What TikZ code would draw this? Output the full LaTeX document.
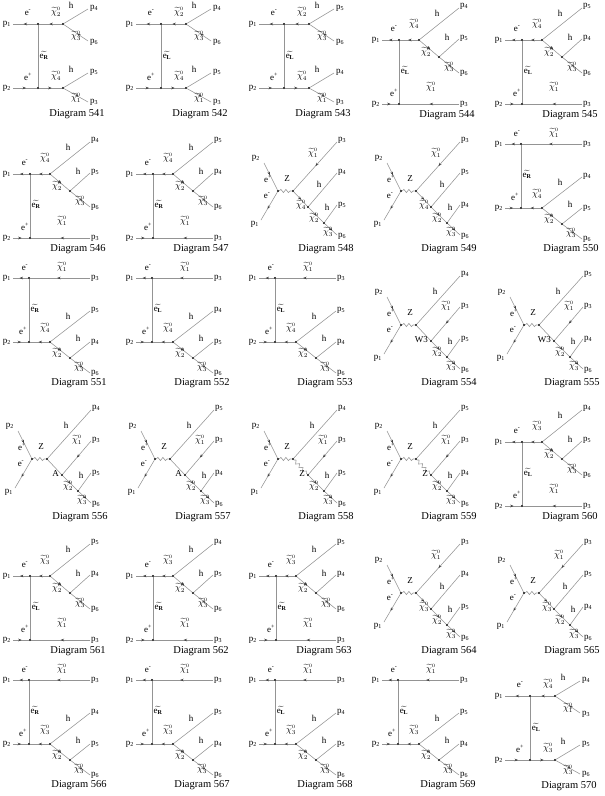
\documentclass[tikz,border=0pt]{standalone}
\usepackage{fontspec}
\setmainfont{Liberation Serif}
\usetikzlibrary{arrows.meta,decorations.markings,decorations.pathmorphing}
\definecolor{lgray}{gray}{0.58}
\definecolor{agray}{gray}{0.25}
\newcommand\lbfont{\fontsize{9}{9}\selectfont}
\newcommand\capfont{\fontsize{10.5}{11}\selectfont}
\newcommand\xP[1]{p\textsubscript{#1}}
\newcommand\xC[1]{$\widetilde{\chi}^{\scriptscriptstyle 0}_{#1}$}
\newcommand\xS[1]{$\widetilde{\mathrm{e}_{\mathbf{#1}}}$}
\newcommand\xEm{e\textsuperscript{-}}
\newcommand\xEp{e\textsuperscript{+}}
\tikzset{
  ln/.style={draw=lgray, line width=0.55pt},
  marr/.style={postaction={decorate}, decoration={markings, mark=at position #1 with {\arrow[agray]{Stealth[length=3.4pt,width=2.6pt]}}}},
  marr/.default=0.55,
  vdot/.style={circle, fill=black, inner sep=0pt, minimum size=2.3pt},
  lb/.style={font=\lbfont, inner sep=0pt},
  captn/.style={font=\capfont, inner sep=0pt},
  wavy/.style={decorate, decoration={snake, amplitude=1.6pt, segment length=5pt}},
}
% ---------- t-channel, two 2-body decays
\newcommand\Ttwo[9]{%
 \coordinate (\dn a) at (13,24);
 \coordinate (\dn b) at (13,88);
 \node[vdot] (\dn v1) at (38,24) {};
 \node[vdot] (\dn v2) at (63,24) {};
 \node[vdot] (\dn v3) at (38,88) {};
 \node[vdot] (\dn v4) at (63,88) {};
 \coordinate (\dn e1) at (88,9);
 \coordinate (\dn e2) at (88,41);
 \coordinate (\dn e3) at (88,73);
 \coordinate (\dn e4) at (88,102);
 \draw[ln,marr] (\dn v1) -- (\dn a);
 \draw[ln,marr] (\dn v2) -- (\dn v1);
 \draw[ln] (\dn v2) -- (\dn e1);
 \draw[ln,marr=0.45] (\dn e2) -- (\dn v2);
 \draw[ln] (\dn v1) -- (\dn v3);
 \draw[ln,marr] (\dn b) -- (\dn v3);
 \draw[ln,marr] (\dn v3) -- (\dn v4);
 \draw[ln] (\dn v4) -- (\dn e3);
 \draw[ln,marr=0.6] (\dn v4) -- (\dn e4);
 \node[lb,anchor=east] (\dn q1) at (11,24) {\xP1};
 \node[lb,anchor=east] (\dn q2) at (11,88) {\xP2};
 \node[lb] (\dn l1) at (28,13) {\xEm};
 \node[lb] (\dn l2) at (28,77) {\xEp};
 \node[lb] (\dn l3) at (56,12) {\xC{#1}};
 \node[lb] (\dn l4) at (71,5) {h};
 \node[lb,anchor=west] (\dn l5) at (90,8) {\xP{#2}};
 \node[lb] (\dn l6) at (76,36) {\xC{#3}};
 \node[lb,anchor=west] (\dn l7) at (90,42) {\xP{#4}};
 \node[lb] (\dn l8) at (44,55) {\xS{#5}};
 \node[lb] (\dn l9) at (56,76) {\xC{#6}};
 \node[lb] (\dn l10) at (71,69) {h};
 \node[lb,anchor=west] (\dn l11) at (90,72) {\xP{#7}};
 \node[lb] (\dn l12) at (76,98) {\xC{#8}};
 \node[lb,anchor=west] (\dn l13) at (90,102) {\xP{#9}};
 \node[captn] (\dn cap) at (77,114) {Diagram \dn};
}
% ---------- t-channel, chain on the upper line
\newcommand\Tup[4]{%
 \coordinate (\dn a) at (13,40);
 \coordinate (\dn b) at (13,104);
 \coordinate (\dn c) at (90,104);
 \node[vdot] (\dn v1) at (30,40) {};
 \node[vdot] (\dn v2) at (50,40) {};
 \node[vdot] (\dn v3) at (70,57) {};
 \node[vdot] (\dn v4) at (30,104) {};
 \coordinate (\dn e1) at (90,8);
 \coordinate (\dn e2) at (90,39);
 \coordinate (\dn e3) at (90,73);
 \draw[ln,marr] (\dn v1) -- (\dn a);
 \draw[ln,marr] (\dn v2) -- (\dn v1);
 \draw[ln] (\dn v2) -- (\dn e1);
 \draw[ln,marr] (\dn v2) -- (\dn v3);
 \draw[ln] (\dn v3) -- (\dn e2);
 \draw[ln,marr=0.6] (\dn v3) -- (\dn e3);
 \draw[ln] (\dn v1) -- (\dn v4);
 \draw[ln,marr] (\dn b) -- (\dn v4);
 \draw[ln,marr=0.5] (\dn c) -- (\dn v4);
 \node[lb,anchor=east] (\dn q1) at (11,40) {\xP1};
 \node[lb,anchor=east] (\dn q2) at (11,104) {\xP2};
 \node[lb] (\dn l1) at (25,29) {\xEm};
 \node[lb] (\dn l2) at (45,24) {\xC{#2}};
 \node[lb] (\dn l3) at (68,13) {h};
 \node[lb,anchor=west] (\dn l4) at (91,6) {\xP{#3}};
 \node[lb] (\dn l5) at (57,52) {\xC2};
 \node[lb] (\dn l6) at (78,37) {h};
 \node[lb,anchor=west] (\dn l7) at (91,38) {\xP{#4}};
 \node[lb] (\dn l8) at (80,67) {\xC3};
 \node[lb,anchor=west] (\dn l9) at (91,73) {\xP6};
 \node[lb] (\dn l10) at (36,70) {\xS{#1}};
 \node[lb] (\dn l11) at (25,93) {\xEp};
 \node[lb] (\dn l12) at (62,87) {\xC1};
 \node[lb,anchor=west] (\dn l13) at (91,104) {\xP3};
 \node[captn] (\dn cap) at (78,115) {Diagram \dn};
}
% ---------- t-channel, chain on the lower line
\newcommand\Tdn[4]{%
 \coordinate (\dn a) at (13,10);
 \coordinate (\dn c) at (90,10);
 \coordinate (\dn b) at (13,74);
 \node[vdot] (\dn v1) at (29,10) {};
 \node[vdot] (\dn v2) at (29,74) {};
 \node[vdot] (\dn v3) at (50,74) {};
 \node[vdot] (\dn v4) at (70,90) {};
 \coordinate (\dn e1) at (90,43);
 \coordinate (\dn e2) at (90,74);
 \coordinate (\dn e3) at (90,105);
 \draw[ln,marr] (\dn v1) -- (\dn a);
 \draw[ln,marr] (\dn c) -- (\dn v1);
 \draw[ln] (\dn v1) -- (\dn v2);
 \draw[ln,marr] (\dn b) -- (\dn v2);
 \draw[ln,marr] (\dn v3) -- (\dn v2);
 \draw[ln] (\dn v3) -- (\dn e1);
 \draw[ln,marr] (\dn v3) -- (\dn v4);
 \draw[ln] (\dn v4) -- (\dn e2);
 \draw[ln,marr=0.6] (\dn v4) -- (\dn e3);
 \node[lb,anchor=east] (\dn q1) at (11,10) {\xP1};
 \node[lb,anchor=east] (\dn q2) at (11,74) {\xP2};
 \node[lb] (\dn l1) at (25,0) {\xEm};
 \node[lb] (\dn l2) at (62,-1) {\xC1};
 \node[lb,anchor=west] (\dn l3) at (91,10) {\xP3};
 \node[lb] (\dn l4) at (35,40) {\xS{#1}};
 \node[lb] (\dn l5) at (23,63) {\xEp};
 \node[lb] (\dn l6) at (45,60) {\xC{#2}};
 \node[lb] (\dn l7) at (68,48) {h};
 \node[lb,anchor=west] (\dn l8) at (91,42) {\xP{#3}};
 \node[lb] (\dn l9) at (57,85) {\xC2};
 \node[lb] (\dn l10) at (78,70) {h};
 \node[lb,anchor=west] (\dn l11) at (91,74) {\xP{#4}};
 \node[lb] (\dn l12) at (79,99) {\xC3};
 \node[lb,anchor=west] (\dn l13) at (91,105) {\xP6};
 \node[captn] (\dn cap) at (79,115) {Diagram \dn};
}
% ---------- s-channel common part
\newcommand\Sbase[1]{%
 \coordinate (\dn a) at (18,29);
 \coordinate (\dn b) at (15,86);
 \node[vdot] (\dn v1) at (32,57) {};
 \node[vdot] (\dn v2) at (47,57) {};
 \node[vdot] (\dn v3) at (62,73) {};
 \node[vdot] (\dn v4) at (78,89) {};
 \coordinate (\dn e1) at (91,8);
 \coordinate (\dn e2) at (91,39);
 \coordinate (\dn e3) at (91,71);
 \coordinate (\dn e4) at (91,101);
 \draw[ln,marr=0.45] (\dn a) -- (\dn v1);
 \draw[ln,marr=0.6] (\dn v1) -- (\dn b);
 \draw[ln,wavy] (\dn v1) -- (\dn v2);
 \draw[ln] (\dn v4) -- (\dn e3);
 \draw[ln,marr=0.6] (\dn v4) -- (\dn e4);
 \node[lb,anchor=east] (\dn q2) at (14,24) {\xP2};
 \node[lb,anchor=east] (\dn q1) at (13,90) {\xP1};
 \node[lb] (\dn l1) at (22,45) {\xEp};
 \node[lb] (\dn l2) at (21,62) {\xEm};
 \node[lb] (\dn l3) at (41,45) {Z};
 \node[lb] (\dn l4) at (68,84) {\xC2};
 \node[lb] (\dn l5) at (81,73) {h};
 \node[lb,anchor=west] (\dn l6) at (92,71) {\xP{#1}};
 \node[lb] (\dn l7) at (82,98) {\xC3};
 \node[lb,anchor=west] (\dn l8) at (92,102) {\xP6};
 \node[captn] (\dn cap) at (80,115) {Diagram \dn};
}
% s-channel, neutralino chain
\newcommand\Sone[3]{%
 \Sbase{#3}
 \draw[ln,marr=0.5] (\dn e1) -- (\dn v2);
 \draw[ln,marr] (\dn v2) -- (\dn v3);
 \draw[ln] (\dn v3) -- (\dn e2);
 \draw[ln,marr] (\dn v3) -- (\dn v4);
 \node[lb] (\dn m1) at (67,19) {\xC1};
 \node[lb,anchor=west] (\dn m2) at (92,6) {\xP3};
 \node[lb] (\dn m3) at (55,71) {\xC{#1}};
 \node[lb] (\dn m4) at (73,50) {h};
 \node[lb,anchor=west] (\dn m5) at (92,38) {\xP{#2}};
}
% s-channel, boson chain
\newcommand\Stwo[4]{%
 \Sbase{#4}
 \draw[ln] (\dn v2) -- (\dn e1);
 \draw[ln,#2] (\dn v2) -- (\dn v3);
 \draw[ln,marr=0.5] (\dn e2) -- (\dn v3);
 \draw[ln,marr] (\dn v3) -- (\dn v4);
 \node[lb] (\dn m1) at (66,23) {h};
 \node[lb,anchor=west] (\dn m2) at (92,6) {\xP{#3}};
 \node[lb,anchor=east] (\dn m3) at (59,72) {#1};
 \node[lb] (\dn m4) at (77,38) {\xC1};
 \node[lb,anchor=west] (\dn m5) at (92,38) {\xP3};
}
\begin{document}
\begin{tikzpicture}[x=1pt,y=-1pt]
\fill[white] (0,0) rectangle (605,796);
\useasboundingbox (0,0) rectangle (605,796);
% row 1
\begin{scope}[shift={(0,0)}]\def\dn{541}\Ttwo{2}{4}{3}{6}{R}{4}{5}{1}{3}\end{scope}
\begin{scope}[shift={(123,0)}]\def\dn{542}\Ttwo{2}{4}{3}{6}{L}{4}{5}{1}{3}\end{scope}
\begin{scope}[shift={(246,0)}]\def\dn{543}\Ttwo{2}{5}{3}{6}{L}{4}{4}{1}{3}\end{scope}
\begin{scope}[shift={(369,0)}]\def\dn{544}\Tup{L}{4}{4}{5}\end{scope}
\begin{scope}[shift={(492,0)}]\def\dn{545}\Tup{L}{4}{5}{4}\end{scope}
% row 2
\begin{scope}[shift={(0,134)}]\def\dn{546}\Tup{R}{4}{4}{5}\end{scope}
\begin{scope}[shift={(123,134)}]\def\dn{547}\Tup{R}{4}{5}{4}\end{scope}
\begin{scope}[shift={(246,134)}]\def\dn{548}\Sone{4}{4}{5}\end{scope}
\begin{scope}[shift={(369,134)}]\def\dn{549}\Sone{4}{5}{4}\end{scope}
\begin{scope}[shift={(492,134)}]\def\dn{550}\Tdn{R}{4}{4}{5}\end{scope}
% row 3
\begin{scope}[shift={(0,268)}]\def\dn{551}\Tdn{R}{4}{5}{4}\end{scope}
\begin{scope}[shift={(123,268)}]\def\dn{552}\Tdn{L}{4}{4}{5}\end{scope}
\begin{scope}[shift={(246,268)}]\def\dn{553}\Tdn{L}{4}{5}{4}\end{scope}
\begin{scope}[shift={(369,268)}]\def\dn{554}\Stwo{W3}{}{4}{5}\end{scope}
\begin{scope}[shift={(492,268)}]\def\dn{555}\Stwo{W3}{}{5}{4}\end{scope}
% row 4
\begin{scope}[shift={(0,402)}]\def\dn{556}\Stwo{A}{}{4}{5}\end{scope}
\begin{scope}[shift={(123,402)}]\def\dn{557}\Stwo{A}{}{5}{4}\end{scope}
\begin{scope}[shift={(246,402)}]\def\dn{558}\Stwo{Z}{wavy}{4}{5}\end{scope}
\begin{scope}[shift={(369,402)}]\def\dn{559}\Stwo{Z}{wavy}{5}{4}\end{scope}
\begin{scope}[shift={(492,402)}]\def\dn{560}\Tup{L}{3}{4}{5}\end{scope}
% row 5
\begin{scope}[shift={(0,536)}]\def\dn{561}\Tup{L}{3}{5}{4}\end{scope}
\begin{scope}[shift={(123,536)}]\def\dn{562}\Tup{R}{3}{4}{5}\end{scope}
\begin{scope}[shift={(246,536)}]\def\dn{563}\Tup{R}{3}{5}{4}\end{scope}
\begin{scope}[shift={(369,536)}]\def\dn{564}\Sone{3}{4}{5}\end{scope}
\begin{scope}[shift={(492,536)}]\def\dn{565}\Sone{3}{5}{4}\end{scope}
% row 6
\begin{scope}[shift={(0,670)}]\def\dn{566}\Tdn{R}{3}{4}{5}\end{scope}
\begin{scope}[shift={(123,670)}]\def\dn{567}\Tdn{R}{3}{5}{4}\end{scope}
\begin{scope}[shift={(246,670)}]\def\dn{568}\Tdn{L}{3}{4}{5}\end{scope}
\begin{scope}[shift={(369,670)}]\def\dn{569}\Tdn{L}{3}{5}{4}\end{scope}
\begin{scope}[shift={(492,672)}]\def\dn{570}\Ttwo{4}{4}{1}{3}{L}{3}{5}{3}{6}\end{scope}
\end{tikzpicture}
\end{document}
